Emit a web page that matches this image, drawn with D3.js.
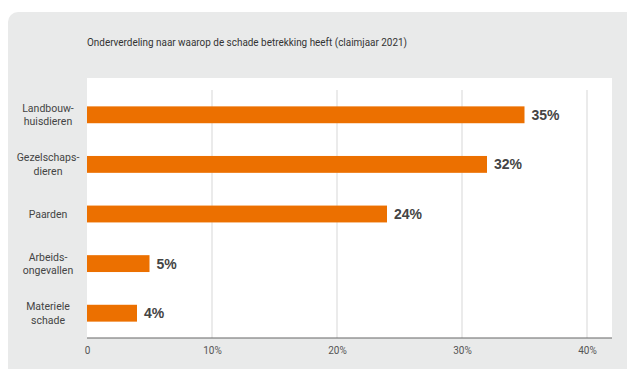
<!DOCTYPE html>
<html>
<head>
<meta charset="utf-8">
<script src="https://cdn.jsdelivr.net/npm/d3@7"></script>
<style>
  body { margin: 0; background: #fff; }
  svg { display: block; font-family: Roboto, sans-serif; }
</style>
</head>
<body>
<svg id="chart"></svg>
<script>
// data
const categories = [
  ['Landbouw-', 'huisdieren'],
  ['Gezelschaps-', 'dieren'],
  ['Paarden'],
  ['Arbeids-', 'ongevallen'],
  ['Materiele', 'schade']
];
const values = [35, 32, 24, 5, 4];
const ticks = [0, 10, 20, 30, 40];
const tickLabels = ['0', '10%', '20%', '30%', '40%'];
const title = 'Onderverdeling naar waarop de schade betrekking heeft (claimjaar 2021)';

const width = 627, height = 369;

const svg = d3.select('#chart')
  .attr('width', width)
  .attr('height', height);

// grey panel with rounded corner
svg.append('rect')
  .attr('x', 8).attr('y', 12)
  .attr('width', 660).attr('height', 400)
  .attr('rx', 10)
  .attr('fill', '#e9eaea');

svg.append('text')
  .attr('x', 87).attr('y', 46)
  .attr('font-size', 11)
  .attr('fill', '#333')
  .attr('textLength', 320)
  .attr('lengthAdjust', 'spacingAndGlyphs')
  .text(title);

// white plot area
svg.append('rect')
  .attr('x', 87).attr('y', 78)
  .attr('width', 525).attr('height', 260)
  .attr('fill', '#fff');

const x = d3.scaleLinear().domain([0, 40]).range([87, 587]);
const y = d3.scaleBand()
  .domain(d3.range(values.length))
  .range([90, 338])
  .paddingInner(0.66)
  .paddingOuter(0.33);

// gridlines
svg.append('g')
  .selectAll('line')
  .data(ticks.slice(1))
  .join('line')
    .attr('x1', d => x(d)).attr('x2', d => x(d))
    .attr('y1', 90).attr('y2', 338)
    .attr('stroke', '#e4e4e4')
    .attr('stroke-width', 1.5);

// bars
svg.append('g')
  .selectAll('rect')
  .data(values)
  .join('rect')
    .attr('x', x(0))
    .attr('y', (d, i) => y(i))
    .attr('width', d => x(d) - x(0))
    .attr('height', y.bandwidth())
    .attr('fill', '#ec7000');

// value labels
svg.append('g')
  .selectAll('text')
  .data(values)
  .join('text')
    .attr('x', d => x(d) + 7)
    .attr('y', (d, i) => y(i) + y.bandwidth() / 2)
    .attr('dy', '0.36em')
    .attr('font-family', '"Liberation Sans", Arial, sans-serif')
    .attr('font-size', 14)
    .attr('font-weight', 'bold')
    .attr('fill', '#444')
    .text(d => d + '%');

// category labels
const cat = svg.append('g')
  .selectAll('text')
  .data(categories)
  .join('text')
    .attr('text-anchor', 'middle')
    .attr('font-size', 10.5)
    .attr('fill', '#444')
    .attr('y', (d, i) => y(i) + y.bandwidth() / 2 - (d.length - 1) * 6.75);

cat.selectAll('tspan')
  .data(d => d)
  .join('tspan')
    .attr('x', 48)
    .attr('dy', (d, i) => i === 0 ? '0.36em' : 13.5)
    .text(d => d);

// x axis
const xAxis = d3.axisBottom(x)
  .tickValues(ticks)
  .tickFormat((d, i) => tickLabels[i])
  .tickSize(0)
  .tickPadding(9);

const ax = svg.append('g')
  .attr('transform', 'translate(0,338)')
  .call(xAxis);
ax.select('.domain').remove();
ax.selectAll('text')
  .attr('font-family', 'Roboto, sans-serif')
  .attr('font-size', 10)
  .attr('fill', '#555');

svg.append('line')
  .attr('x1', 87).attr('x2', 612)
  .attr('y1', 338).attr('y2', 338)
  .attr('stroke', '#666')
  .attr('stroke-width', 1.2);
</script>
</body>
</html>
